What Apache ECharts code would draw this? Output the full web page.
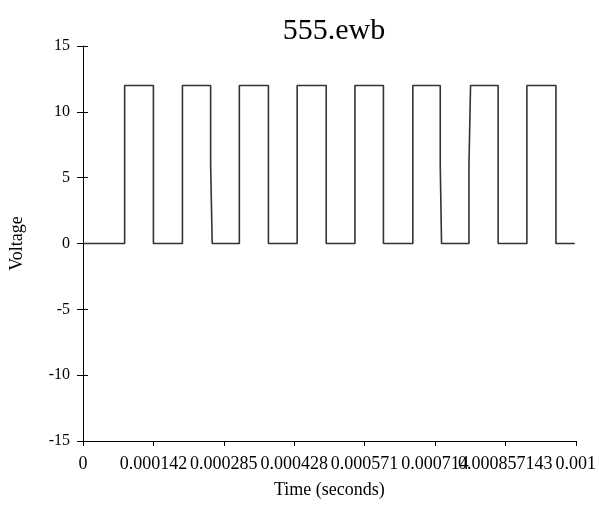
<!DOCTYPE html>
<html>
<head>
<meta charset="utf-8">
<script src="https://cdn.jsdelivr.net/npm/echarts@6/dist/echarts.min.js"></script>
<style>
html,body{margin:0;padding:0;background:#fff;}
#chart{width:599px;height:519px;}
</style>
</head>
<body>
<div id="chart"></div>
<script>
// Time in seconds, voltage in volts
var timeSec = [
  0, 84.5e-6, 84.5e-6, 142.9e-6, 142.9e-6,
  201.8e-6, 201.8e-6, 259.0e-6, 259.0e-6, 262.2e-6, 262.2e-6,
  317.3e-6, 317.3e-6, 376.3e-6, 376.3e-6,
  434.6e-6, 434.6e-6, 493.6e-6, 493.6e-6,
  551.9e-6, 551.9e-6, 609.7e-6, 609.7e-6,
  669.4e-6, 669.4e-6, 725.0e-6, 725.0e-6, 727.6e-6, 727.6e-6,
  783.3e-6, 783.3e-6, 786.5e-6, 786.5e-6, 842.5e-6, 842.5e-6,
  900.8e-6, 900.8e-6, 959.8e-6, 959.8e-6, 998e-6
];
var voltage = [
  0, 0, 12, 12, 0,
  0, 12, 12, 6, 6, 0,
  0, 12, 12, 0,
  0, 12, 12, 0,
  0, 12, 12, 0,
  0, 12, 12, 6, 6, 0,
  0, 6, 6, 12, 12, 0,
  0, 12, 12, 0, 0
];
var xTickLabels = ["0", "0.000142", "0.000285", "0.000428", "0.000571", "0.000714", "0.000857143", "0.001"];
var yTickMin = -15, yTickMax = 15, yTickStep = 5;
var xMax = 0.001;
var xStep = xMax / (xTickLabels.length - 1);

var points = timeSec.map(function (t, i) { return [t, voltage[i]]; });
var serif = "'Liberation Serif', 'DejaVu Serif', serif";

var chart = echarts.init(document.getElementById('chart'), null, {renderer: 'canvas'});
chart.setOption({
  animation: false,
  backgroundColor: '#ffffff',
  title: {
    text: '555.ewb',
    left: 329, top: 11, textAlign: 'center',
    textStyle: {fontFamily: serif, fontSize: 30, fontWeight: 'normal', color: '#000'}
  },
  grid: {left: 83, right: 19, top: 46, bottom: 78, containLabel: false},
  xAxis: {
    type: 'value', min: 0, max: xMax, interval: xStep,
    name: 'Time (seconds)', nameLocation: 'middle', nameGap: 40,
    nameTextStyle: {fontFamily: serif, fontSize: 18, color: '#000'},
    axisLine: {onZero: false, lineStyle: {color: '#000', width: 1}},
    axisTick: {show: true, length: 5, lineStyle: {color: '#000'}},
    splitLine: {show: false},
    axisLabel: {
      color: '#000', fontFamily: serif, fontSize: 18, margin: 14,
      showMinLabel: true, showMaxLabel: true,
      formatter: function (v) { return xTickLabels[Math.round(v / xStep)]; }
    }
  },
  yAxis: [{
    type: 'value', min: yTickMin, max: yTickMax, interval: yTickStep,
    name: 'Voltage', nameLocation: 'middle', nameGap: 57, nameRotate: 90,
    nameTextStyle: {fontFamily: serif, fontSize: 18, color: '#000'},
    axisLine: {show: true, onZero: false, lineStyle: {color: '#000', width: 1}},
    axisTick: {show: true, length: 6, lineStyle: {color: '#000'}},
    splitLine: {show: false},
    axisLabel: {color: '#000', fontFamily: serif, fontSize: 16, margin: 13}
  }, {
    type: 'value', min: yTickMin, max: yTickMax, interval: yTickStep,
    position: 'left', offset: 0,
    axisLine: {show: false},
    axisTick: {show: true, inside: true, length: 5, lineStyle: {color: '#000'}},
    splitLine: {show: false},
    axisLabel: {show: false}
  }],
  series: [{
    type: 'line', data: points, showSymbol: false, symbol: 'none',
    lineStyle: {color: '#333', width: 1.6}
  }]
});
</script>
</body>
</html>
